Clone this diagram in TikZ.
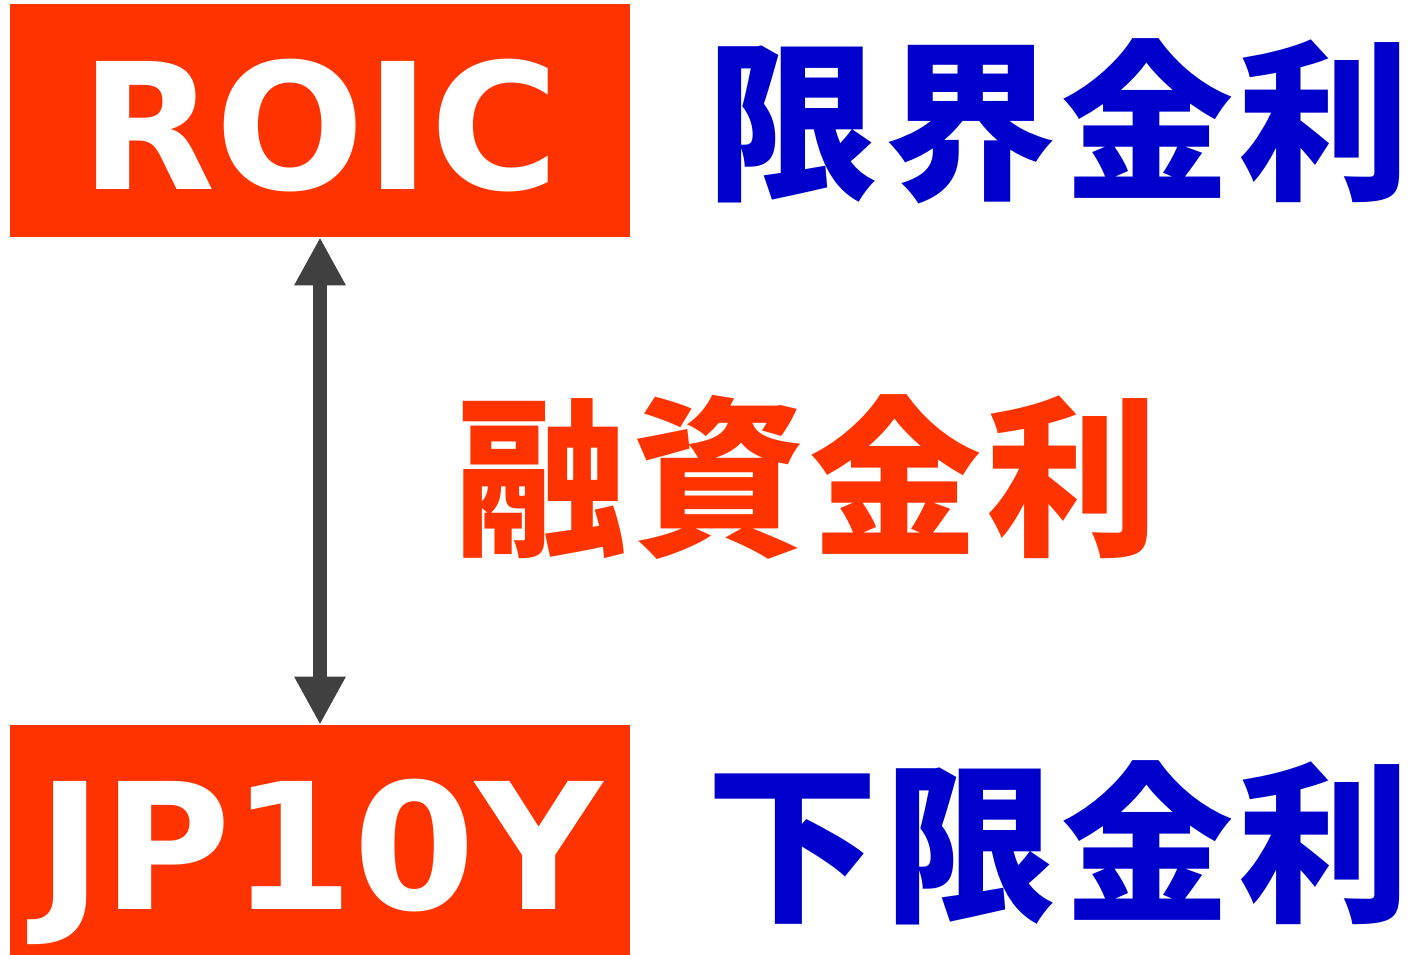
\documentclass[tikz,border=0pt]{standalone}
\usepackage{fontspec}
\setmainfont{DejaVu Sans}
\newfontfamily\cjk{Noto Sans CJK JP}[LetterSpace=3]
\usetikzlibrary{arrows.meta}
\definecolor{rate}{HTML}{FF3300}
\definecolor{limit}{HTML}{0000CC}
\definecolor{bar}{HTML}{404040}

\begin{document}
\begin{tikzpicture}[x=0.02cm, y=-0.02cm,
  ratebox/.style={fill=rate, text=white, minimum width=12.4cm, text height=78.6pt, text depth=0pt, font=\bfseries\fontsize{100}{100}\selectfont},
  bigword/.style={font=\cjk\bfseries\fontsize{98}{98}\selectfont}]
\useasboundingbox (0,0) rectangle (1409,955);
\node [ratebox, minimum height=4.66cm] (roic) at (320,120.5) {ROIC};
\node [ratebox, minimum height=4.6cm] (jp) at (320,840) {JP10Y};
\draw [bar, line width=0.28cm, {Triangle[width=0.96cm, length=0.96cm]}-{Triangle[width=0.96cm, length=0.96cm]}] (roic) -- (jp);
\node [bigword, text=limit] (upper) at (1059,121) {限界金利};
\node [bigword, text=rate] (loan) at (807,477) {融資金利};
\node [bigword, text=limit] (lower) at (1059,843) {下限金利};
\end{tikzpicture}
\end{document}
